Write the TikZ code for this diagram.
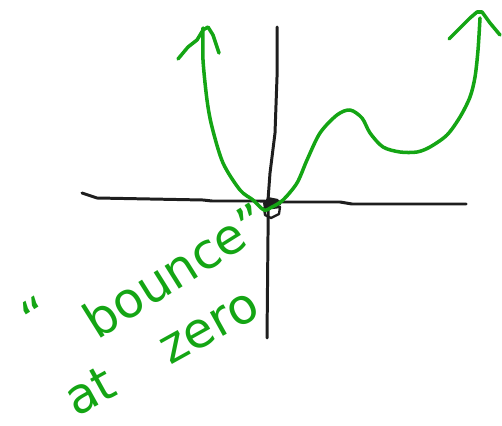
\documentclass[tikz,border=0pt]{standalone}
\usepackage{fontspec}
\setmainfont{DejaVu Sans}
\definecolor{pen}{RGB}{20,165,20}
\definecolor{ink}{RGB}{30,30,30}
\begin{document}
\begin{tikzpicture}[x=0.02cm,y=-0.02cm,
  axisline/.style={draw=ink,line width=1.7pt,line cap=round,line join=round},
  penline/.style={draw=pen,line width=2pt,line cap=round,line join=round},
  handtext/.style={text=pen,inner sep=0pt,font=\fontsize{28}{32}\selectfont}]
\useasboundingbox (0,0) rectangle (502,425);
% axes
\draw[axisline] (82,193) -- (97,198) -- (203,200) -- (212,201) -- (260,201) -- (280,202) -- (340,202) -- (352,204) -- (466,204);
\draw[axisline] (277,27) -- (277,77) -- (275,133) -- (270,173) -- (268,200) -- (268,235) -- (267,338);
% scribble at origin
\fill[ink] (263,203) -- (268,197) -- (278,199) -- (281,205) -- (272,208) -- (264,209) -- cycle;
\draw[axisline,line width=1.3pt] (264,208) -- (265,215) -- (271,218) -- (279,214) -- (280,207) -- (272,208);
% green curve
\draw[penline] plot[smooth,tension=0.5] coordinates {(203,28) (203,60) (207,100) (212,127) (223,163) (240,190) (253,200) (264,210) (272,207) (283,200) (297,183) (307,160) (320,133) (337,115) (350,110) (362,118) (370,133) (383,147) (400,152) (417,152) (430,147) (447,135) (460,117) (470,97) (475,77) (478,50) (480,18)};
% arrowheads
\draw[penline] (178,59) -- (188,47) -- (197,40) -- (203,30) -- (208,27) -- (213,35) -- (219,53);
\draw[penline] (449,39) -- (460,28) -- (470,18) -- (477,12) -- (482,12) -- (490,23) -- (500,35);
% text
\node[handtext,rotate=32,anchor=base west] (t1) at (54,367) {\raisebox{0.7cm}{“}\hspace{0.5cm}bounce”};
\node[handtext,rotate=29,anchor=base west] (t2) at (76,418) {at\ \hspace{0.85cm}zero};
\end{tikzpicture}
\end{document}
